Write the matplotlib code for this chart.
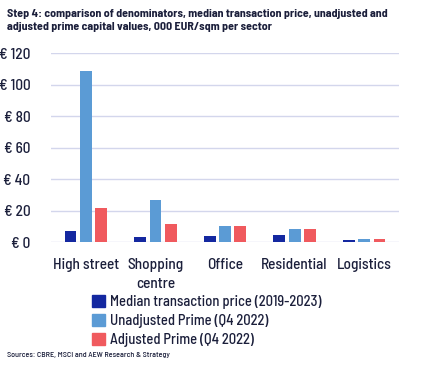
import numpy as np
import matplotlib.pyplot as plt
from matplotlib.patches import Patch

# sector values, 000 EUR/sqm
sectors = ['High street', 'Shopping\ncentre', 'Office', 'Residential', 'Logistics']
median_tx = [7.2, 3.6, 4.2, 4.4, 1.3]
unadj_prime = [109, 27, 10.3, 8.2, 2.1]
adj_prime = [21.8, 11.4, 10.1, 8.4, 2.1]
series_names = ['Median transaction price (2019-2023)',
                'Unadjusted Prime (Q4 2022)',
                'Adjusted Prime (Q4 2022)']
yticks = [0, 20, 40, 60, 80, 100, 120]

colors = ['#1428A0', '#5B9BD5', '#F05A5E']
txt = '#1B1F3B'
plt.rcParams['font.family'] = ['Barlow Semi Condensed', 'DejaVu Sans']
plt.rcParams['font.weight'] = 500

fig = plt.figure(figsize=(4.29, 3.65), dpi=100)
ax = fig.add_axes([0.119, 0.336, 0.811, 0.518])

x = np.arange(len(sectors))
w = 0.17
step = 0.22
for i, (vals, c) in enumerate(zip([median_tx, unadj_prime, adj_prime], colors)):
    ax.bar(x + (i - 1) * step, vals, width=w, color=c, zorder=3)

ax.set_xlim(-0.5, len(sectors) - 0.5)
ax.set_ylim(0, 120)
ax.set_yticks(yticks)
ax.set_yticklabels(['€ %d' % v for v in yticks], fontsize=11, color=txt, fontweight=500)
ax.yaxis.grid(True, color='#D3D6EC', linewidth=1.0, zorder=0)
ax.set_xticks(x)
ax.set_xticklabels(sectors, fontsize=11, color=txt, linespacing=1.5, fontweight=500)
ax.tick_params(axis='both', length=0)
ax.tick_params(axis='y', pad=15)
ax.tick_params(axis='x', pad=11)
for s in ax.spines.values():
    s.set_visible(False)

fig.text(0.016, 0.975, 'Step 4: comparison of denominators, median transaction price, unadjusted and\n'
         'adjusted prime capital values, 000 EUR/sqm per sector',
         fontsize=8.6, fontweight='bold', color=txt, va='top', ha='left', linespacing=1.3)

handles = [Patch(color=c) for c in colors]
fig.legend(handles, series_names, loc='upper left', bbox_to_anchor=(0.215, 0.192),
           frameon=False, fontsize=10.5, labelcolor=txt, handlelength=0.85, handleheight=0.85,
           handletextpad=0.35, labelspacing=0.35, borderpad=0, borderaxespad=0,
           prop={'weight': 500, 'size': 10.5})

fig.text(0.016, 0.027, 'Sources: CBRE, MSCI and AEW Research & Strategy',
         fontsize=5.8, color=txt, va='center', ha='left', fontweight=500)

fig.savefig('out.png', dpi=100)
